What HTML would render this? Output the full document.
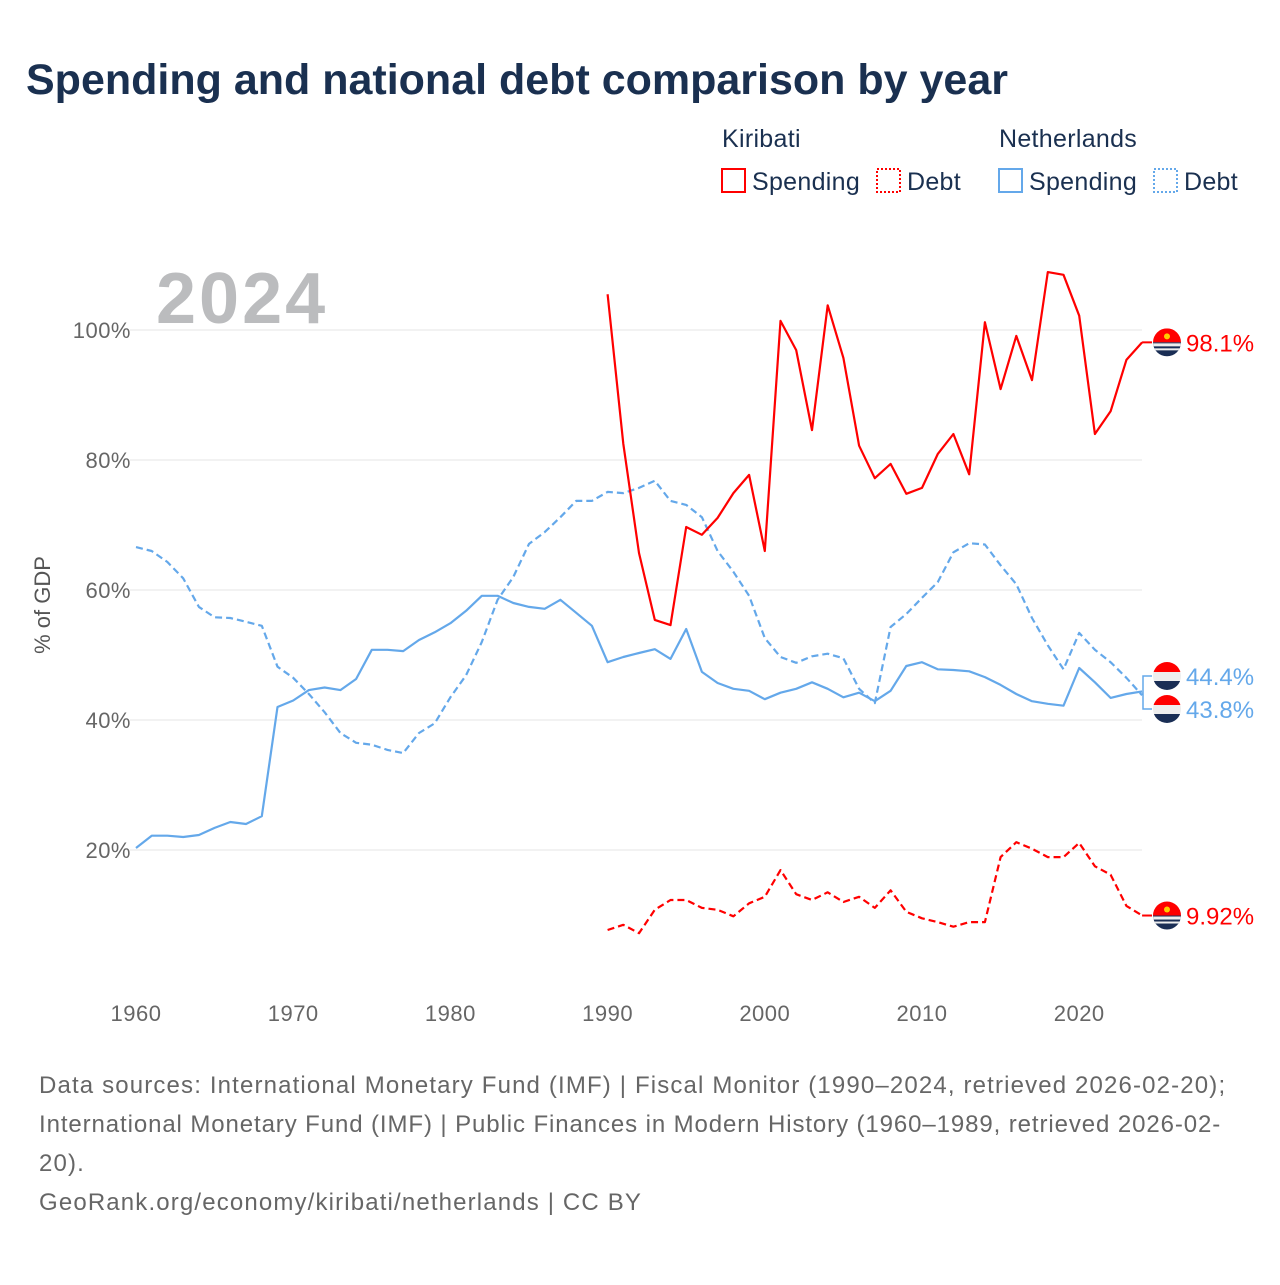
<!DOCTYPE html>
<html><head><meta charset="utf-8"><style>
body{margin:0;background:#fff;font-family:"Liberation Sans",sans-serif}
svg text{font-family:"Liberation Sans",sans-serif}
</style></head><body>
<svg id="chart" width="1280" height="1280" viewBox="0 0 1280 1280" xmlns="http://www.w3.org/2000/svg">
<rect width="1280" height="1280" fill="#fff"/>
<text x="26" y="94" font-size="43" font-weight="bold" fill="#1a3050">Spending and national debt comparison by year</text>
<g font-size="25" fill="#1a3050" letter-spacing="0.3">
<text x="722" y="147">Kiribati</text>
<text x="999" y="147">Netherlands</text>
<g><rect x="722" y="169" width="23" height="23" fill="none" stroke="#f00" stroke-width="2"/><text x="752" y="190">Spending</text></g>
<g><rect x="877" y="169" width="23" height="23" fill="none" stroke="#f00" stroke-width="2" stroke-dasharray="2,2"/><text x="907" y="190">Debt</text></g>
<g><rect x="999" y="169" width="23" height="23" fill="none" stroke="#64a8ea" stroke-width="2"/><text x="1029" y="190">Spending</text></g>
<g><rect x="1154" y="169" width="23" height="23" fill="none" stroke="#64a8ea" stroke-width="2" stroke-dasharray="2,2"/><text x="1184" y="190">Debt</text></g>
</g>
<text x="156" y="323" font-size="72" font-weight="bold" fill="#bbbcbe" letter-spacing="3">2024</text>
<g id="grid"></g><g id="series"></g><g id="ends"></g>
<text transform="translate(50,605) rotate(-90)" text-anchor="middle" font-size="22" fill="#555">% of GDP</text>
<g font-size="24" fill="#666" letter-spacing="1.15">
<text x="39" y="1093">Data sources: International Monetary Fund (IMF) | Fiscal Monitor (1990–2024, retrieved 2026-02-20);</text>
<text x="39" y="1132" letter-spacing="0.9">International Monetary Fund (IMF) | Public Finances in Modern History (1960–1989, retrieved 2026-02-</text>
<text x="39" y="1171">20).</text>
<text x="39" y="1210">GeoRank.org/economy/kiribati/netherlands | CC BY</text>
</g>
</svg>
<script>
const yTicks=[20,40,60,80,100];
const xTicks=[1960,1970,1980,1990,2000,2010,2020];
const nlSpending=[20.3,22.2,22.2,22,22.3,23.4,24.3,24,25.2,42,43,44.6,45,44.6,46.3,50.8,50.8,50.6,52.3,53.5,54.9,56.8,59.1,59.1,58,57.4,57.1,58.5,56.5,54.5,48.9,49.7,50.3,50.9,49.4,54,47.4,45.7,44.8,44.5,43.2,44.2,44.8,45.8,44.8,43.5,44.2,42.9,44.5,48.3,48.9,47.8,47.7,47.5,46.6,45.4,44,42.9,42.5,42.2,48,45.8,43.4,44,44.4];
const nlDebt=[66.6,66,64.3,61.8,57.4,55.8,55.7,55.1,54.5,48.2,46.5,44,41.2,38,36.5,36.2,35.4,34.9,38,39.5,43.5,46.9,52,58.5,62,67.1,68.9,71.2,73.7,73.7,75.1,74.9,75.7,76.8,73.7,73.1,71.2,66,62.8,59.1,52.6,49.7,48.8,49.8,50.2,49.5,44.8,42.6,54.3,56.3,58.8,61.2,65.8,67.2,67,63.8,60.9,55.7,51.5,47.8,53.4,50.8,48.9,46.5,43.8];
const kiSpending=[105.5,82.5,65.7,55.4,54.6,69.7,68.5,71.1,74.9,77.7,66,101.4,96.9,84.6,103.8,95.7,82.2,77.2,79.4,74.8,75.7,80.9,84,77.8,101.2,90.9,99.1,92.3,108.9,108.5,102.2,84,87.5,95.4,98.1];
const kiDebt=[7.7,8.5,7.2,10.8,12.3,12.3,11.1,10.8,9.8,11.8,12.8,16.9,13.2,12.3,13.5,12,12.8,11.1,13.8,10.5,9.5,8.9,8.2,8.9,8.9,18.9,21.2,20.2,18.9,18.9,21.1,17.5,16.2,11.4,9.92];
const endLabels=["98.1%","44.4%","43.8%","9.92%"];
const NS="http://www.w3.org/2000/svg";
const X=yr=>136+(yr-1960)*15.72;
const Y=v=>980-v*6.5;
function mk(t,a,p){const e=document.createElementNS(NS,t);for(const k in a)e.setAttribute(k,a[k]);p.appendChild(e);return e;}
const grid=document.getElementById('grid');
yTicks.forEach(v=>{
 const l=mk('line',{x1:130,x2:1142,y1:Y(v),y2:Y(v),stroke:'#e6e6e6','stroke-width':1},grid);
 
 
 const t=mk('text',{x:131,y:Y(v)+8,'text-anchor':'end','font-size':22,fill:'#666','letter-spacing':0.5},grid);
 t.textContent=v+'%';
 
 
});
xTicks.forEach(yr=>{
 const t=mk('text',{x:X(yr),y:1021,'text-anchor':'middle','font-size':22,fill:'#666','letter-spacing':0.5},grid);
 t.textContent=yr;
 
 
});
const ser=document.getElementById('series');
function line(data,start,color,dash,name){
 const d=data.map((v,i)=>(i?'L':'M')+X(start+i).toFixed(1)+','+Y(v).toFixed(1)).join('');
 const p=mk('path',{d:d,fill:'none',stroke:color,'stroke-width':2.2,'stroke-linejoin':'round'},ser);
 if(dash)p.setAttribute('stroke-dasharray','7,4');
 
 
}
line(nlSpending,1960,'#64a8ea',false,'netherlands-spending-line');
line(nlDebt,1960,'#64a8ea',true,'netherlands-debt-line');
line(kiSpending,1990,'#ff0000',false,'kiribati-spending-line');
line(kiDebt,1990,'#ff0000',true,'kiribati-debt-line');
const ends=document.getElementById('ends');
const xe=X(2024);
function flag(cy,type,name){
 const g=mk('g',{},ends);
 
 
 const cx=1167,r=14;
 const id='c'+Math.round(cy);
 const cp=mk('clipPath',{id:id},g);mk('circle',{cx:cx,cy:cy,r:r},cp);
 const f=mk('g',{'clip-path':'url(#'+id+')'},g);
 if(type==='nl'){
  mk('rect',{x:cx-r,y:cy-r,width:2*r,height:10,fill:'#f00'},f);
  mk('rect',{x:cx-r,y:cy-4,width:2*r,height:9,fill:'#eee'},f);
  mk('rect',{x:cx-r,y:cy+5,width:2*r,height:10,fill:'#1a2e55'},f);
 }else{
  mk('rect',{x:cx-r,y:cy-r,width:2*r,height:14,fill:'#f00'},f);
  mk('circle',{cx:cx,cy:cy-6,r:3,fill:'#fc0'},f);
  mk('rect',{x:cx-r,y:cy,width:2*r,height:14,fill:'#1a2e55'},f);
  mk('rect',{x:cx-r,y:cy+1,width:2*r,height:3,fill:'#eee'},f);
  mk('rect',{x:cx-r,y:cy+6,width:2*r,height:2,fill:'#eee'},f);
 }
}
function label(cy,txt,color){
 const t=mk('text',{x:1186,y:cy+9,'font-size':24,fill:color},ends);
 t.textContent=txt;
 
 
}
mk('path',{d:`M${xe},${Y(kiSpending[34])}H1152`,stroke:'#f00','stroke-width':2,fill:'none'},ends);
flag(Y(kiSpending[34]),'ki','kiribati-spending-flag');label(Y(kiSpending[34]),endLabels[0],'#f00');
mk('path',{d:`M${xe},${Y(kiDebt[34])}H1152`,stroke:'#f00','stroke-width':2,fill:'none'},ends);
flag(Y(kiDebt[34]),'ki','kiribati-debt-flag');label(Y(kiDebt[34]),endLabels[3],'#f00');
mk('path',{d:`M${xe},${Y(44.1)}H1143M1152,676H1143V709H1152`,stroke:'#64a8ea','stroke-width':1.5,fill:'none'},ends);
flag(676,'nl','netherlands-spending-flag');label(676,endLabels[1],'#64a8ea');
flag(709,'nl','netherlands-debt-flag');label(709,endLabels[2],'#64a8ea');
</script>
</body></html>
